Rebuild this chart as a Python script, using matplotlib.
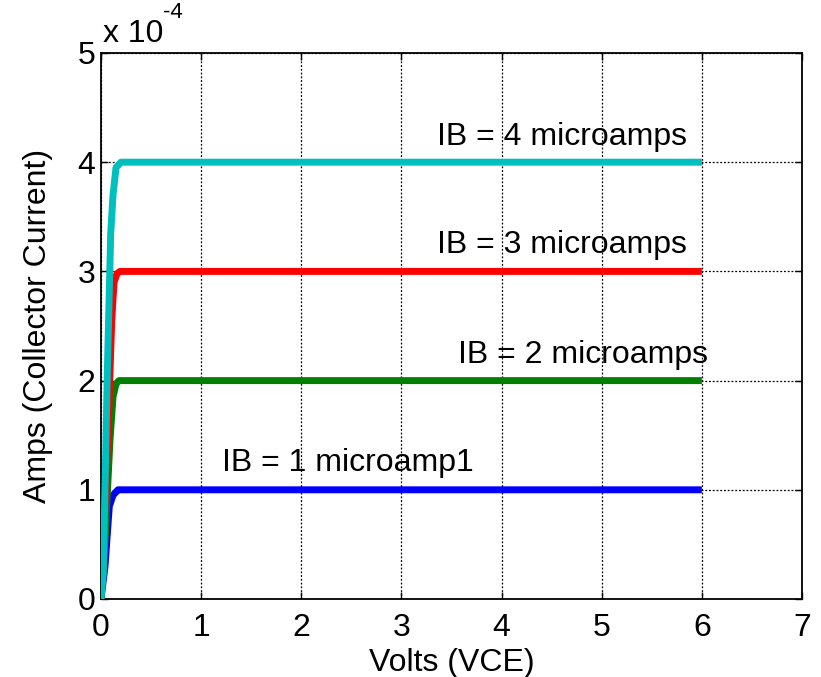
import matplotlib
matplotlib.use("Agg")
import matplotlib.pyplot as plt

plt.rcParams['font.family'] = ['Liberation Sans', 'DejaVu Sans']

# Data (amps), x in volts
scale = 1e-4
vce_blue = [0, 0.02, 0.04, 0.083, 0.12, 0.17, 0.2, 6]
ic_blue = [0, 0.15, 0.3, 0.85, 0.95, 1.0, 1.0, 1.0]
vce_green = [0, 0.04, 0.09, 0.12, 0.15, 0.18, 6]
ic_green = [0, 0.54, 1.46, 1.85, 1.97, 2.0, 2.0]
vce_red = [0, 0.067, 0.107, 0.13, 0.16, 0.19, 6]
ic_red = [0, 1.46, 2.55, 2.9, 2.98, 3.0, 3.0]
vce_cyan = [0, 0.023, 0.063, 0.097, 0.12, 0.15, 0.2, 6]
ic_cyan = [0, 0.24, 2.07, 3.35, 3.7, 3.95, 4.0, 4.0]

labels = ["IB = 1 microamp1", "IB = 2 microamps", "IB = 3 microamps", "IB = 4 microamps"]
label_x = [1.21, 3.56, 3.36, 3.36]
label_y = [1.25, 2.23, 3.24, 4.23]

xticks = [0, 1, 2, 3, 4, 5, 6, 7]
yticks = [0, 1, 2, 3, 4, 5]

FS = 23

fig = plt.figure(figsize=(8.21, 6.77), dpi=100)
ax = fig.add_axes([101/821, 1-599/677, (802-101)/821, (599-53)/677])

lw = 5
series = [(vce_blue, ic_blue, '#0000ff'), (vce_green, ic_green, '#008000'),
          (vce_red, ic_red, '#ff0000'), (vce_cyan, ic_cyan, '#00bfbf')]
for xs, ys, c in series:
    ax.plot(xs, [v*scale for v in ys], color=c, lw=lw, solid_capstyle='butt',
            solid_joinstyle='round', zorder=3)

for t, x, y in zip(labels, label_x, label_y):
    ax.text(x, y*scale, t, fontsize=FS, ha='left', va='center', zorder=4)

ax.set_xlim(0, 7)
ax.set_ylim(0, 5*scale)
ax.set_xticks(xticks)
ax.set_yticks([v*scale for v in yticks])
ax.set_xticklabels([str(v) for v in xticks])
ax.set_yticklabels([str(v) for v in yticks])
ax.tick_params(direction='in', length=5, width=1, labelsize=FS, top=True, right=True, pad=4)
ax.tick_params(axis='x', pad=10)
ax.grid(True, color='black', linestyle=(0, (1.5, 1.5)), linewidth=0.9)
for s in ax.spines.values():
    s.set_linewidth(1.3)

ax.set_xlabel('Volts (VCE)', fontsize=FS, labelpad=4)
ax.set_ylabel('Amps (Collector Current)', fontsize=FS, labelpad=18)

fig.text(103/821, 1-34/677, 'x 10', fontsize=FS, ha='left', va='center')
fig.text(163/821, 1-12/677, '-4', fontsize=16, ha='left', va='center')

fig.savefig('out.png', dpi=100)
